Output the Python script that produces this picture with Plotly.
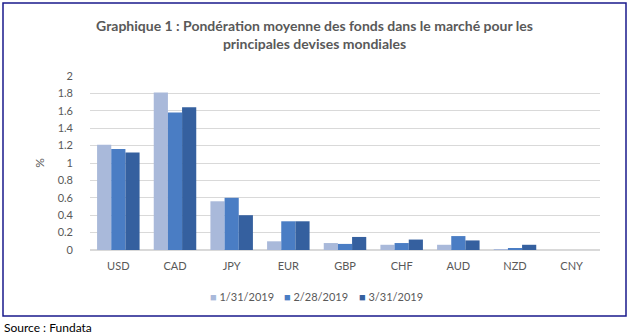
import plotly.graph_objects as go

categories = ["USD", "CAD", "JPY", "EUR", "GBP", "CHF", "AUD", "NZD", "CNY"]
jan = [1.21, 1.81, 0.56, 0.10, 0.08, 0.06, 0.06, 0.01, 0.0]
feb = [1.16, 1.58, 0.60, 0.33, 0.07, 0.08, 0.16, 0.02, 0.0]
mar = [1.12, 1.64, 0.40, 0.33, 0.15, 0.12, 0.11, 0.06, 0.0]
series_names = ["1/31/2019", "2/28/2019", "3/31/2019"]
colors = ["#A9B9DA", "#4A7DC4", "#35609F"]
y_ticks = [0, 0.2, 0.4, 0.6, 0.8, 1, 1.2, 1.4, 1.6, 1.8, 2]

W, H = 629, 334
L, R, T, B = 90, 600, 76, 250

fig = go.Figure()
for name, vals, col in zip(series_names, [jan, feb, mar], colors):
    fig.add_trace(go.Bar(x=categories, y=vals, name=name, showlegend=False,
                         marker=dict(color=col, line=dict(width=0))))

def px(x):
    return (x - L) / (R - L)

def py(y):
    return (B - y) / (B - T)

fig.update_layout(
    width=W, height=H,
    margin=dict(l=L, r=W - R, t=T, b=H - B),
    paper_bgcolor="white", plot_bgcolor="white",
    barmode="group", bargap=0.25, bargroupgap=0,
    font=dict(family="Lato, Open Sans, sans-serif", color="#595959", size=11),
    title=dict(
        text="<b>Graphique 1 : Pondération moyenne des fonds dans le marché pour les<br>principales devises mondiales</b>",
        x=0.5, xref="container", xanchor="center", y=1 - 31 / H, yanchor="middle",
        font=dict(family="Lato, Open Sans, sans-serif", size=14, color="#595959"),
    ),
    xaxis=dict(showline=False, ticks="", ticklabelstandoff=8, tickfont=dict(size=11, color="#595959")),
    yaxis=dict(range=[0, 2], tickvals=y_ticks, ticktext=[f"{v:g}" for v in y_ticks],
               showgrid=True, gridcolor="#D9D9D9", gridwidth=1, zeroline=True,
               zerolinecolor="#D9D9D9", ticks="", ticklabelstandoff=16,
               title=dict(text="%", font=dict(size=12, color="#595959"), standoff=10),
               tickfont=dict(size=11, color="#595959")),
    showlegend=False,
)

# legend drawn as text entries
legend_x = [208, 282, 357]
for name, col, lx in zip(series_names, colors, legend_x):
    fig.add_annotation(text=f"<span style='color:{col}'>■</span> {name}", xref="paper", yref="paper",
                       x=px(lx), y=py(296), xanchor="left", yanchor="middle", showarrow=False,
                       font=dict(family="Lato, Open Sans, sans-serif", size=11, color="#595959"))

fig.add_shape(type="rect", xref="paper", yref="paper",
              x0=px(3), x1=px(626), y0=py(316), y1=py(3),
              line=dict(color="#1A1A8C", width=1.5), fillcolor="rgba(0,0,0,0)", layer="below")

fig.add_annotation(text="Source : Fundata", xref="paper", yref="paper",
                   x=px(2), y=py(327), xanchor="left", yanchor="middle", showarrow=False,
                   font=dict(family="Lato, Open Sans, sans-serif", size=12, color="#000000"))

fig.write_html("out.html")
